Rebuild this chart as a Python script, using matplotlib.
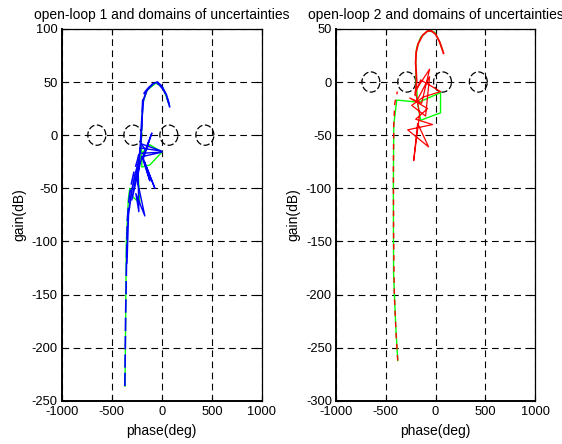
import numpy as np
import matplotlib
matplotlib.use("Agg")
import matplotlib.pyplot as plt

plt.rcParams['font.family'] = ['Liberation Sans', 'DejaVu Sans']
plt.rcParams['font.size'] = 9.3
plt.rcParams['axes.unicode_minus'] = False

# ---- data (phase in deg, gain in dB) ----
# open-loop 1
ol1_phase = [-370, -362, -352, -345, -330, -310, -280, -245, -215, -205, -198, -196, -192, -175, -130, -70, -30, 20, 60, 80]
ol1_gain = [-236, -170, -110, -80, -62, -48, -35, -24, -12, 0, 12, 22, 32, 40, 45, 49, 48, 42, 33, 26]
ol1b_phase = [-350, -335, -300, -270, -235, -215, -210, -200, -185, -150, -95, -45, 0, 45, 70]
ol1b_gain = [-120, -75, -52, -38, -26, -15, -2, 15, 33, 42, 48, 50, 46, 38, 30]
ol1_nom_phase = [-368, -355, -335, -320, -290, -220, -240, -200, -120, 0, -120, -200, -205, -200, -190, -150, -60, 10, 75]
ol1_nom_gain = [-236, -100, -60, -50, -58, -64, -30, -17, -9, -16, -28, -30, -5, 10, 30, 42, 49, 45, 28]
ol1_spk_phase = [-200, 0, -190, -100, -185, -70, -175, -120, -200, -300, -240, -230, -260, -170, -240, -220, 0, -210, -160, -130]
ol1_spk_gain = [-17, -16, -20, 2, -22, -50, -25, -43, -20, -61, -28, -72, -55, -76, -45, -12, -15, -8, -14, -6]

# open-loop 2
ol2_phase = [-380, -395, -415, -422, -424, -420, -410, -390, -385]
ol2_gain = [-262, -240, -200, -140, -80, -40, -20, -12, -9]
ol2_top_phase = [-205, -190, -195, -200, -195, -175, -130, -80, -40, 0, 40, 70, 80]
ol2_top_gain = [-12, 0, 10, 18, 28, 36, 44, 48, 48, 45, 38, 30, 27]
ol2_nom_phase = [-380, -400, -422, -424, -420, -390, -170, 50, 50, -150, -180, -195, -200, -190, -150, -80, -10, 40, 70]
ol2_nom_gain = [-262, -230, -180, -100, -40, -17, -19, -10, -29, -36, -20, 0, 18, 32, 42, 48, 47, 38, 30]
ol2_spk_phase = [-180, -60, -140, -260, -80, -200, -30, -280, -70, -180, -220, -160, -200, -150, 50, -120, -240, -100, -60, -190]
ol2_spk_gain = [-5, 12, -20, -15, -25, -35, -40, -45, -61, -39, -74, -30, -10, 2, -9, -14, -22, -32, 5, -18]

# domains of uncertainty (centres at 0 dB)
dom_phase = [-650, -290, 70, 430]
dom_gain = [0, 0, 0, 0]
dom_w, dom_h = 90, 9.5

titles = ['open-loop 1 and domains of uncertainties', 'open-loop 2 and domains of uncertainties']


def style_axes(ax, ylim, yticks):
    ax.set_xlim(-1000, 1000)
    ax.set_ylim(*ylim)
    ax.set_xticks([-1000, -500, 0, 500, 1000])
    ax.set_yticks(yticks)
    ax.tick_params(direction='in', length=4, top=True, right=True, width=0.8)
    ax.tick_params(axis='x', pad=4)
    ax.tick_params(axis='y', pad=3)
    ax.grid(True, color='black', linestyle=(0, (6, 4)), linewidth=0.8)
    for side, s in ax.spines.items():
        s.set_linewidth(1.4 if side in ('left', 'bottom') else 0.9)
    ax.set_xlabel('phase(deg)', fontsize=10, labelpad=4)
    ax.set_ylabel('gain(dB)', fontsize=10, labelpad=4)


def draw_domains(ax):
    t = np.linspace(0, 2 * np.pi, 80)
    for cx, cy in zip(dom_phase, dom_gain):
        ax.plot(cx + dom_w * np.cos(t), cy + dom_h * np.sin(t), color='black',
                linestyle=(0, (5, 2)), linewidth=0.9)


fig = plt.figure(figsize=(5.62, 4.44), dpi=100)
ax1 = fig.add_axes([0.110, 0.097, 0.356, 0.838])
ax2 = fig.add_axes([0.598, 0.097, 0.354, 0.838])

# left
style_axes(ax1, (-250, 100), range(-250, 101, 50))
draw_domains(ax1)
ax1.plot(ol1_nom_phase, ol1_nom_gain, color='#00ff00', lw=1.0)
ax1.plot(ol1_phase, ol1_gain, color='blue', lw=1.2, linestyle=(0, (8, 3)))
ax1.plot(ol1b_phase, ol1b_gain, color='blue', lw=1.3)
ax1.plot(ol1_spk_phase, ol1_spk_gain, color='blue', lw=1.0)
ax1.set_title(titles[0], fontsize=10, pad=7)

# right
style_axes(ax2, (-300, 50), range(-300, 51, 50))
draw_domains(ax2)
ax2.plot(ol2_nom_phase, ol2_nom_gain, color='#00ff00', lw=1.0)
ax2.plot(ol2_phase, ol2_gain, color='red', lw=1.0, linestyle=(0, (4, 4)))
ax2.plot(ol2_top_phase, ol2_top_gain, color='red', lw=1.3)
ax2.plot(ol2_spk_phase, ol2_spk_gain, color='red', lw=0.9)
ax2.set_title(titles[1], fontsize=10, pad=7)

fig.savefig('out.png', dpi=100)
